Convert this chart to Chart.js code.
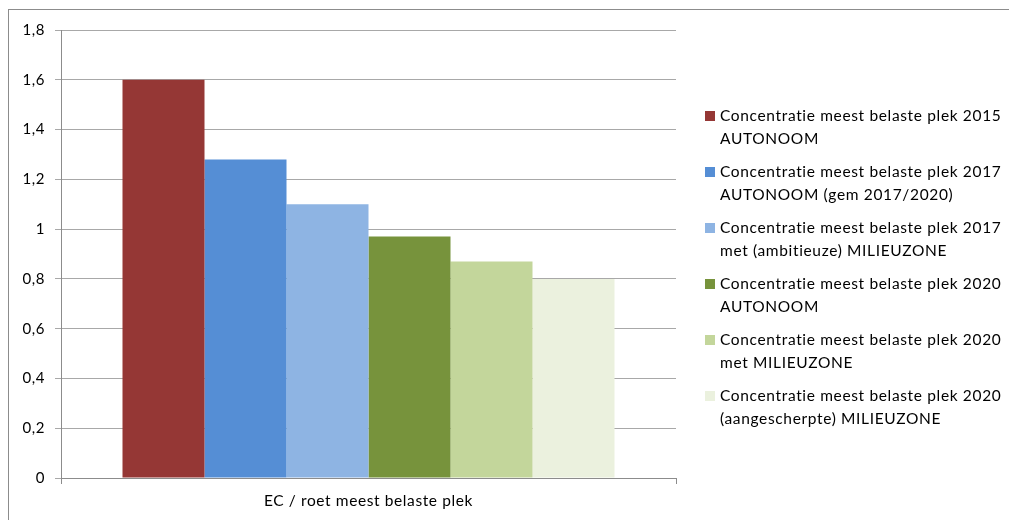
<!DOCTYPE html>
<html>
<head>
<meta charset="utf-8">
<script src="https://cdn.jsdelivr.net/npm/chart.js@4.4.1/dist/chart.umd.min.js"></script>
<style>
  html, body { margin: 0; padding: 0; background: #fff; overflow: hidden; }
  #wrap { position: relative; width: 1009px; height: 520px; }
  #frame { position: absolute; left: 8px; top: 9px; width: 1200px; height: 800px; border: 1px solid #8c8c8c; pointer-events: none; }
  #legend { position: absolute; left: 705px; top: 104px; font-family: Lato, sans-serif; font-size: 15.5px; letter-spacing: 0.65px; font-variant-ligatures: none; color: #000; }
  .item { position: relative; padding-left: 15px; line-height: 22.5px; margin-bottom: 11px; white-space: nowrap; }
  .sw { position: absolute; left: 0; top: 7px; width: 10px; height: 10px; }
</style>
</head>
<body>
<div id="wrap">
  <canvas id="chart" width="1009" height="520"></canvas>
  <div id="frame"></div>
  <div id="legend"></div>
</div>
<script>
// data
const categories = ["EC / roet meest belaste plek"]
const seriesNames = [
    ["Concentratie meest belaste plek 2015", "AUTONOOM"],
    ["Concentratie meest belaste plek 2017", "AUTONOOM (gem 2017/2020)"],
    ["Concentratie meest belaste plek 2017", "met (ambitieuze) MILIEUZONE"],
    ["Concentratie meest belaste plek 2020", "AUTONOOM"],
    ["Concentratie meest belaste plek 2020", "met MILIEUZONE"],
    ["Concentratie meest belaste plek 2020", "(aangescherpte) MILIEUZONE"]
]
const seriesValues = [1.6, 1.28, 1.1, 0.97, 0.87, 0.8]
const seriesColors = ["#953735", "#558ed5", "#8eb4e3", "#77933c", "#c3d69b", "#ebf1de"]

const font = "Lato"

// wider spacing like the original Calibri rendering
const spacingPlugin = {
    id: "spacing",
    beforeLayout: function(c){ c.ctx.letterSpacing = "0.6px"; c.ctx.fontVariantLigatures = "none" },
    beforeDraw: function(c){ c.ctx.letterSpacing = "0.6px" }
}

let datasets = seriesNames.map(function(name, i){
    return {
        label: name.join(" "),
        data: [seriesValues[i]],
        backgroundColor: seriesColors[i],
        borderWidth: 0,
        barPercentage: 1,
        categoryPercentage: 0.8
    }
})

let chart = new Chart(document.getElementById("chart").getContext("2d"), {type: "bar",
    data: {
        labels: categories,
        datasets: datasets
    },
    plugins: [spacingPlugin],
    options: {
        responsive: false,
        animation: false,
        layout: { padding: { left: 0, right: 333, top: 30, bottom: 0 } },
        plugins: {
            legend: { display: false },
            tooltip: { enabled: false }
        },
        scales: {
            x: {
                offset: true,
                grid: { drawOnChartArea: false, tickLength: 6, color: "#8c8c8c", offset: true },
                border: { color: "#8c8c8c" },
                ticks: { color: "#000", padding: 8, font: { family: font, size: 15.5 } },
                afterFit: function(scale){ scale.height = 42 }
            },
            y: {
                min: 0,
                max: 1.8,
                grid: { color: "#a8a8a8", tickLength: 6 },
                border: { color: "#8c8c8c" },
                ticks: {
                    stepSize: 0.2,
                    color: "#000",
                    padding: 10,
                    font: { family: font, size: 15 },
                    callback: function(v){ return String(Number(v.toFixed(1))).replace(".", ",") }
                },
                afterFit: function(scale){ scale.width = 61 }
            }
        }
    }
})

// html legend with the two-line labels
const legendBox = document.getElementById("legend")
chart.data.datasets.forEach(function(ds, i){
    const item = document.createElement("div")
    item.className = "item"
    const sw = document.createElement("span")
    sw.className = "sw"
    sw.style.background = ds.backgroundColor
    item.appendChild(sw)
    seriesNames[i].forEach(function(line, j){
        if (j > 0) item.appendChild(document.createElement("br"))
        item.appendChild(document.createTextNode(line))
    })
    legendBox.appendChild(item)
})
</script>
</body>
</html>
